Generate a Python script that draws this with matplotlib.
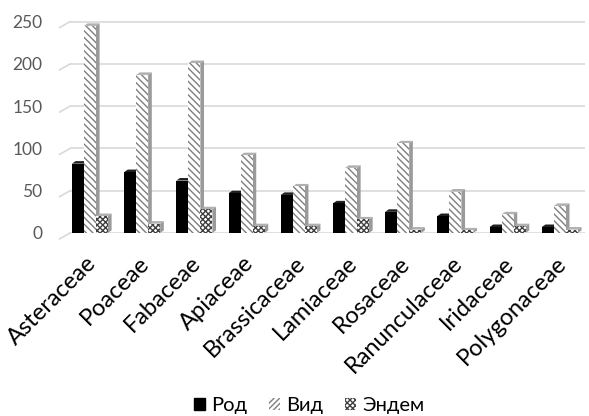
import matplotlib
matplotlib.use("Agg")
import matplotlib.pyplot as plt
from matplotlib.patches import Polygon, Patch
import numpy as np

plt.rcParams['font.family'] = ['Lato', 'DejaVu Sans']
plt.rcParams['hatch.linewidth'] = 1.0

categories = ["Asteraceae", "Poaceae", "Fabaceae", "Apiaceae", "Brassicaceae",
              "Lamiaceae", "Rosaceae", "Ranunculaceae", "Iridaceae", "Polygonaceae"]
rod = [82, 72, 62, 47, 45, 35, 25, 20, 7, 7]
vid = [245, 187, 201, 92, 55, 77, 106, 49, 22, 32]
endem = [20, 11, 28, 8, 8, 16, 4, 3, 8, 4]
series_names = ["Род", "Вид", "Эндем"]
yticks = [0, 50, 100, 150, 200, 250]

fig = plt.figure(figsize=(5.89, 4.16), dpi=100)
ax = fig.add_axes([0.119, 0.44, 0.874, 0.512])

x = np.arange(len(categories))
w = 0.23
dx, dy = 0.07, 3.0

styles = [
    dict(color="black", hatch=None, edge="black"),
    dict(color="white", hatch="\\\\\\\\\\", edge="#7f7f7f"),
    dict(color="white", hatch="xxxxxx", edge="#404040"),
]

for i, (vals, st) in enumerate(zip([rod, vid, endem], styles)):
    xs = x + (i - 1) * w
    bars = ax.bar(xs, vals, width=w, color=st["color"], edgecolor=st["edge"],
                  hatch=st["hatch"], linewidth=0, zorder=3 + i)
    for b in bars:
        x0 = b.get_x()
        x1 = x0 + b.get_width()
        h = b.get_height()
        side_col = "#303030" if i == 0 else "#9a9a9a"
        top_col = "#202020" if i == 0 else "#b0b0b0"
        side = Polygon([(x1, 0), (x1 + dx, dy), (x1 + dx, h + dy), (x1, h)],
                       closed=True, facecolor=side_col, edgecolor="none", zorder=2 + i,
                       hatch=None if i == 0 else st["hatch"])
        top = Polygon([(x0, h), (x0 + dx, h + dy), (x1 + dx, h + dy), (x1, h)],
                      closed=True, facecolor=top_col, edgecolor="none", zorder=2 + i)
        ax.add_patch(side)
        ax.add_patch(top)

xl0, xl1 = -0.38, 9.48
ax.set_xlim(xl0, xl1)
ax.set_ylim(0, 252)
ax.set_yticks(yticks)
ax.yaxis.grid(True, color="#d9d9d9", linewidth=1.2, zorder=0)
ax.set_axisbelow(True)
# 3D-style stubs at the left end of gridlines
for v in yticks:
    ax.plot([xl0 - 0.2, xl0], [v - 7, v], color="#d9d9d9", lw=1.2,
            clip_on=False, zorder=0)
for s in ax.spines.values():
    s.set_visible(False)
ax.tick_params(axis="both", length=0, colors="#595959")
ax.tick_params(axis="y", pad=20, labelsize=12.5)
ax.set_xticks(x - 0.08)
ax.set_xticklabels(categories, rotation=45, ha="right", rotation_mode="anchor",
                   fontsize=17, color="#000000")
ax.tick_params(axis="x", pad=14)

handles = [Patch(facecolor="black", edgecolor="black"),
           Patch(facecolor="white", edgecolor="#7f7f7f", hatch="//////", linewidth=0),
           Patch(facecolor="white", edgecolor="#404040", hatch="xxxxxx", linewidth=0)]
fig.legend(handles, series_names, loc="center", bbox_to_anchor=(0.525, 0.025),
           ncol=3, frameon=False, fontsize=14.5, handlelength=0.55, handleheight=0.55,
           columnspacing=1.1, handletextpad=0.3, labelcolor="#000000")

fig.savefig("out.png", dpi=100)
